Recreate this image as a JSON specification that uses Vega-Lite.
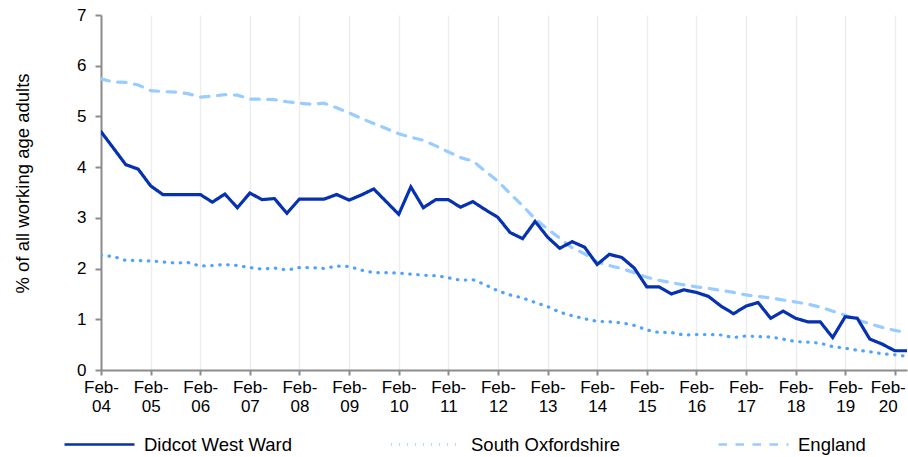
{
  "$schema": "https://vega.github.io/schema/vega-lite/v6.json",
  "width": 806,
  "height": 355,
  "autosize": {"type": "none"},
  "padding": {"left": 101, "top": 15, "right": 1, "bottom": 87},
  "background": "white",
  "config": {"view": {"stroke": null}, "font": "Liberation Sans"},
  "data": {"values": [
    {"date": "2004-02-01", "Didcot West Ward": 4.70, "South Oxfordshire": 2.26, "England": 5.74},
    {"date": "2004-05-01", "Didcot West Ward": 4.38, "South Oxfordshire": 2.24, "England": 5.68},
    {"date": "2004-08-01", "Didcot West Ward": 4.05, "South Oxfordshire": 2.16, "England": 5.67},
    {"date": "2004-11-01", "Didcot West Ward": 3.96, "South Oxfordshire": 2.16, "England": 5.62},
    {"date": "2005-02-01", "Didcot West Ward": 3.63, "South Oxfordshire": 2.15, "England": 5.51},
    {"date": "2005-05-01", "Didcot West Ward": 3.46, "South Oxfordshire": 2.13, "England": 5.49},
    {"date": "2005-08-01", "Didcot West Ward": 3.46, "South Oxfordshire": 2.11, "England": 5.48},
    {"date": "2005-11-01", "Didcot West Ward": 3.46, "South Oxfordshire": 2.12, "England": 5.45},
    {"date": "2006-02-01", "Didcot West Ward": 3.46, "South Oxfordshire": 2.05, "England": 5.38},
    {"date": "2006-05-01", "Didcot West Ward": 3.31, "South Oxfordshire": 2.06, "England": 5.40},
    {"date": "2006-08-01", "Didcot West Ward": 3.47, "South Oxfordshire": 2.08, "England": 5.43},
    {"date": "2006-11-01", "Didcot West Ward": 3.20, "South Oxfordshire": 2.06, "England": 5.42},
    {"date": "2007-02-01", "Didcot West Ward": 3.49, "South Oxfordshire": 2.02, "England": 5.34},
    {"date": "2007-05-01", "Didcot West Ward": 3.36, "South Oxfordshire": 1.99, "England": 5.34},
    {"date": "2007-08-01", "Didcot West Ward": 3.38, "South Oxfordshire": 2.01, "England": 5.33},
    {"date": "2007-11-01", "Didcot West Ward": 3.09, "South Oxfordshire": 1.97, "England": 5.29},
    {"date": "2008-02-01", "Didcot West Ward": 3.37, "South Oxfordshire": 2.02, "England": 5.26},
    {"date": "2008-05-01", "Didcot West Ward": 3.37, "South Oxfordshire": 2.02, "England": 5.24},
    {"date": "2008-08-01", "Didcot West Ward": 3.37, "South Oxfordshire": 2.00, "England": 5.26},
    {"date": "2008-11-01", "Didcot West Ward": 3.46, "South Oxfordshire": 2.05, "England": 5.17},
    {"date": "2009-02-01", "Didcot West Ward": 3.35, "South Oxfordshire": 2.04, "England": 5.07},
    {"date": "2009-05-01", "Didcot West Ward": 3.45, "South Oxfordshire": 1.97, "England": 4.96},
    {"date": "2009-08-01", "Didcot West Ward": 3.57, "South Oxfordshire": 1.92, "England": 4.86},
    {"date": "2009-11-01", "Didcot West Ward": 3.32, "South Oxfordshire": 1.92, "England": 4.76},
    {"date": "2010-02-01", "Didcot West Ward": 3.07, "South Oxfordshire": 1.91, "England": 4.66},
    {"date": "2010-05-01", "Didcot West Ward": 3.61, "South Oxfordshire": 1.89, "England": 4.59},
    {"date": "2010-08-01", "Didcot West Ward": 3.20, "South Oxfordshire": 1.87, "England": 4.53},
    {"date": "2010-11-01", "Didcot West Ward": 3.36, "South Oxfordshire": 1.86, "England": 4.42},
    {"date": "2011-02-01", "Didcot West Ward": 3.36, "South Oxfordshire": 1.82, "England": 4.30},
    {"date": "2011-05-01", "Didcot West Ward": 3.21, "South Oxfordshire": 1.77, "England": 4.19},
    {"date": "2011-08-01", "Didcot West Ward": 3.32, "South Oxfordshire": 1.78, "England": 4.12},
    {"date": "2011-11-01", "Didcot West Ward": 3.16, "South Oxfordshire": 1.68, "England": 3.92},
    {"date": "2012-02-01", "Didcot West Ward": 3.01, "South Oxfordshire": 1.56, "England": 3.72},
    {"date": "2012-05-01", "Didcot West Ward": 2.71, "South Oxfordshire": 1.48, "England": 3.48},
    {"date": "2012-08-01", "Didcot West Ward": 2.59, "South Oxfordshire": 1.42, "England": 3.24},
    {"date": "2012-11-01", "Didcot West Ward": 2.93, "South Oxfordshire": 1.33, "England": 2.98},
    {"date": "2013-02-01", "Didcot West Ward": 2.62, "South Oxfordshire": 1.25, "England": 2.78},
    {"date": "2013-05-01", "Didcot West Ward": 2.40, "South Oxfordshire": 1.14, "England": 2.60},
    {"date": "2013-08-01", "Didcot West Ward": 2.53, "South Oxfordshire": 1.07, "England": 2.41},
    {"date": "2013-11-01", "Didcot West Ward": 2.42, "South Oxfordshire": 1.01, "England": 2.29},
    {"date": "2014-02-01", "Didcot West Ward": 2.08, "South Oxfordshire": 0.96, "England": 2.13},
    {"date": "2014-05-01", "Didcot West Ward": 2.28, "South Oxfordshire": 0.95, "England": 2.06},
    {"date": "2014-08-01", "Didcot West Ward": 2.22, "South Oxfordshire": 0.93, "England": 2.00},
    {"date": "2014-11-01", "Didcot West Ward": 2.01, "South Oxfordshire": 0.88, "England": 1.92},
    {"date": "2015-02-01", "Didcot West Ward": 1.64, "South Oxfordshire": 0.79, "England": 1.83},
    {"date": "2015-05-01", "Didcot West Ward": 1.64, "South Oxfordshire": 0.74, "England": 1.77},
    {"date": "2015-08-01", "Didcot West Ward": 1.50, "South Oxfordshire": 0.74, "England": 1.72},
    {"date": "2015-11-01", "Didcot West Ward": 1.58, "South Oxfordshire": 0.69, "England": 1.68},
    {"date": "2016-02-01", "Didcot West Ward": 1.53, "South Oxfordshire": 0.70, "England": 1.64},
    {"date": "2016-05-01", "Didcot West Ward": 1.45, "South Oxfordshire": 0.70, "England": 1.61},
    {"date": "2016-08-01", "Didcot West Ward": 1.26, "South Oxfordshire": 0.69, "England": 1.57},
    {"date": "2016-11-01", "Didcot West Ward": 1.11, "South Oxfordshire": 0.64, "England": 1.53},
    {"date": "2017-02-01", "Didcot West Ward": 1.26, "South Oxfordshire": 0.67, "England": 1.48},
    {"date": "2017-05-01", "Didcot West Ward": 1.33, "South Oxfordshire": 0.66, "England": 1.45},
    {"date": "2017-08-01", "Didcot West Ward": 1.02, "South Oxfordshire": 0.65, "England": 1.42},
    {"date": "2017-11-01", "Didcot West Ward": 1.16, "South Oxfordshire": 0.61, "England": 1.38},
    {"date": "2018-02-01", "Didcot West Ward": 1.02, "South Oxfordshire": 0.56, "England": 1.34},
    {"date": "2018-05-01", "Didcot West Ward": 0.95, "South Oxfordshire": 0.55, "England": 1.30},
    {"date": "2018-08-01", "Didcot West Ward": 0.95, "South Oxfordshire": 0.53, "England": 1.24},
    {"date": "2018-11-01", "Didcot West Ward": 0.64, "South Oxfordshire": 0.46, "England": 1.16},
    {"date": "2019-02-01", "Didcot West Ward": 1.05, "South Oxfordshire": 0.43, "England": 1.08},
    {"date": "2019-05-01", "Didcot West Ward": 1.02, "South Oxfordshire": 0.39, "England": 0.99},
    {"date": "2019-08-01", "Didcot West Ward": 0.61, "South Oxfordshire": 0.36, "England": 0.91},
    {"date": "2019-11-01", "Didcot West Ward": 0.51, "South Oxfordshire": 0.32, "England": 0.84},
    {"date": "2020-02-01", "Didcot West Ward": 0.38, "South Oxfordshire": 0.30, "England": 0.78},
    {"date": "2020-05-01", "Didcot West Ward": 0.38, "South Oxfordshire": 0.27, "England": 0.74}
  ]},
  "transform": [
    {"fold": ["England", "South Oxfordshire", "Didcot West Ward"], "as": ["series", "value"]}
  ],
  "mark": {"type": "line", "strokeCap": "round", "strokeWidth": 3.2, "clip": true},
  "encoding": {
    "x": {
      "field": "date",
      "type": "temporal",
      "scale": {
        "type": "utc",
        "domain": [
          {"year": 2004, "month": 2, "date": 1, "utc": true},
          {"year": 2020, "month": 5, "date": 1, "utc": true}
        ]
      },
      "axis": {
        "title": null,
        "values": [
          {"year": 2004, "month": 2, "date": 1, "utc": true},
          {"year": 2005, "month": 2, "date": 1, "utc": true},
          {"year": 2006, "month": 2, "date": 1, "utc": true},
          {"year": 2007, "month": 2, "date": 1, "utc": true},
          {"year": 2008, "month": 2, "date": 1, "utc": true},
          {"year": 2009, "month": 2, "date": 1, "utc": true},
          {"year": 2010, "month": 2, "date": 1, "utc": true},
          {"year": 2011, "month": 2, "date": 1, "utc": true},
          {"year": 2012, "month": 2, "date": 1, "utc": true},
          {"year": 2013, "month": 2, "date": 1, "utc": true},
          {"year": 2014, "month": 2, "date": 1, "utc": true},
          {"year": 2015, "month": 2, "date": 1, "utc": true},
          {"year": 2016, "month": 2, "date": 1, "utc": true},
          {"year": 2017, "month": 2, "date": 1, "utc": true},
          {"year": 2018, "month": 2, "date": 1, "utc": true},
          {"year": 2019, "month": 2, "date": 1, "utc": true},
          {"year": 2020, "month": 2, "date": 1, "utc": true}
        ],
        "labelExpr": "['Feb-', utcFormat(datum.value, '%y')]",
        "labelFontSize": 17,
        "labelLineHeight": 19,
        "labelColor": "#000000",
        "labelFlush": false,
        "labelOverlap": false,
        "labelPadding": 4,
        "labelOffset": {"condition": {"test": "utcyear(datum.value) == 2020", "value": -7}, "value": 0},
        "grid": true,
        "gridColor": "#ededed",
        "gridWidth": 1.5,
        "domainColor": "#8c8c8c",
        "domainWidth": 2,
        "tickColor": "#8c8c8c",
        "tickWidth": 2,
        "tickSize": 5
      }
    },
    "y": {
      "field": "value",
      "type": "quantitative",
      "scale": {"domain": [0, 7], "nice": false},
      "axis": {
        "title": "% of all working age adults",
        "titleFontSize": 18.5,
        "titleFontWeight": "normal",
        "titleColor": "#000000",
        "titleAngle": -90,
        "titleAlign": "center",
        "titleBaseline": "alphabetic",
        "titleX": -73,
        "titleY": 168,
        "values": [0, 1, 2, 3, 4, 5, 6, 7],
        "grid": false,
        "labelFontSize": 17,
        "labelColor": "#000000",
        "labelPadding": 9,
        "domainColor": "#8c8c8c",
        "domainWidth": 2,
        "tickColor": "#8c8c8c",
        "tickWidth": 2,
        "tickSize": 6
      }
    },
    "color": {
      "field": "series",
      "type": "nominal",
      "scale": {
        "domain": ["Didcot West Ward", "South Oxfordshire", "England"],
        "range": ["#0631B0", "#4DA3FF", "#99CCFF"]
      },
      "legend": {
        "title": null,
        "orient": "none",
        "legendX": -38,
        "legendY": 393,
        "direction": "horizontal",
        "columns": 3,
        "gridAlign": "all",
        "columnPadding": 92,
        "padding": 0,
        "symbolType": "stroke",
        "symbolSize": 4900,
        "symbolStrokeWidth": 2.5,
        "labelFontSize": 18.5,
        "labelColor": "#000000",
        "labelOffset": 8,
        "labelLimit": 400
      }
    },
    "strokeDash": {
      "field": "series",
      "type": "nominal",
      "scale": {
        "domain": ["Didcot West Ward", "South Oxfordshire", "England"],
        "range": [[1, 0], [0.5, 7.5], [8.5, 8.5]]
      },
      "legend": {
        "title": null,
        "orient": "none",
        "legendX": -38,
        "legendY": 393,
        "direction": "horizontal",
        "columns": 3,
        "gridAlign": "all",
        "columnPadding": 92,
        "padding": 0,
        "symbolType": "stroke",
        "symbolSize": 4900,
        "symbolStrokeWidth": 2.5,
        "labelFontSize": 18.5,
        "labelColor": "#000000",
        "labelOffset": 8,
        "labelLimit": 400
      }
    }
  }
}
